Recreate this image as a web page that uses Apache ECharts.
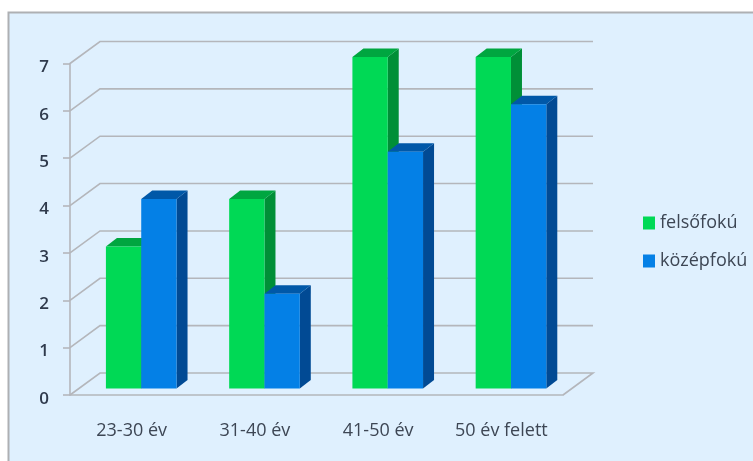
<!DOCTYPE html>
<html lang="hu">
<head>
    <meta charset="UTF-8">
    <title>felsőfokú / középfokú</title>
    <script src="https://cdn.jsdelivr.net/npm/echarts@6/dist/echarts.min.js"></script>
    <style>
        html, body { margin: 0; padding: 0; background: #fff; overflow: hidden; }
        #chart { width: 753px; height: 461px; }
    </style>
</head>
<body>
<div id="chart"></div>
<script>
    var categories = ['23-30 év', '31-40 év', '41-50 év', '50 év felett'];
    var felsofoku = [3, 4, 7, 7];
    var kozepfoku = [4, 2, 5, 6];
    var yTicks = [0, 1, 2, 3, 4, 5, 6, 7];

    var FONT = '"Open Sans", sans-serif';
    // fake 3d: the bars sit a bit into the floor, the back wall further
    var WALL_DX = 30, WALL_DY = 22;
    var BAR_DX = 9.6, BAR_DY = 6.5;
    var SIDE_DX = 11, SIDE_DY = 8.5;
    var GRID_LINE = '#b4b6bb';

    // back wall: one horizontal line per tick plus the slanted bit from the axis
    function renderWall(params, api) {
        var y = api.coord([0, api.value(1)])[1];
        var left = params.coordSys.x;
        var right = left + params.coordSys.width;
        var pts = [[left, y], [left + WALL_DX, y - WALL_DY], [right + WALL_DX, y - WALL_DY]];
        if (api.value(1) === 0) pts.push([right, y]);
        return {
            type: 'polyline',
            shape: { points: pts },
            style: { fill: 'none', stroke: GRID_LINE, lineWidth: 1.6 }
        };
    }

    function barRenderer(side, front, dark, darker) {
        return function (params, api) {
            var band = api.size([1, 0])[0];
            var w = band * 0.2865;
            var top = api.coord([api.value(0), api.value(1)]);
            var base = api.coord([api.value(0), 0]);
            var x0 = top[0] + BAR_DX + (side < 0 ? -w : 0);
            var x1 = x0 + w;
            var y0 = top[1] - BAR_DY;
            var y1 = base[1] - BAR_DY;
            return {
                type: 'group',
                children: [
                    {
                        type: 'polygon',
                        shape: { points: [[x1, y0], [x1 + SIDE_DX, y0 - SIDE_DY], [x1 + SIDE_DX, y1 - SIDE_DY], [x1, y1]] },
                        style: { fill: darker }
                    },
                    {
                        type: 'polygon',
                        shape: { points: [[x0, y0], [x0 + SIDE_DX, y0 - SIDE_DY], [x1 + SIDE_DX, y0 - SIDE_DY], [x1, y0]] },
                        style: { fill: dark }
                    },
                    {
                        type: 'rect',
                        shape: { x: x0, y: y0, width: w, height: y1 - y0 },
                        style: { fill: front }
                    }
                ]
            };
        };
    }

    var myChart = echarts.init(document.getElementById('chart'), null, { renderer: 'canvas' });
    var option = {
        animation: false,
        backgroundColor: '#fff',
        graphic: [{
            type: 'rect',
            z: -1,
            shape: { x: 8.5, y: 12.5, width: 800, height: 500 },
            style: { fill: '#dff0fe', stroke: '#aeb0b3', lineWidth: 2 }
        }],
        grid: { left: 70, top: 63.5, width: 493, height: 331.5 },
        xAxis: {
            type: 'category',
            data: categories,
            axisLine: { lineStyle: { color: GRID_LINE, width: 1.6 } },
            axisTick: { length: 6, lineStyle: { color: GRID_LINE, width: 1.6 } },
            axisLabel: { color: '#3d4654', fontFamily: FONT, fontSize: 18, margin: 27 },
            splitLine: { show: false }
        },
        yAxis: {
            type: 'value',
            min: 0,
            max: 7,
            interval: 1,
            axisLine: { show: true, lineStyle: { color: GRID_LINE, width: 1.6 } },
            axisTick: { show: true, length: 7, lineStyle: { color: GRID_LINE, width: 1.6 } },
            axisLabel: { color: '#2f3a4c', fontFamily: FONT, fontSize: 17, fontWeight: 600, margin: 21, verticalAlign: 'top', lineHeight: 8 },
            splitLine: { show: false }
        },
        legend: {
            left: 638,
            top: 209,
            orient: 'vertical',
            itemWidth: 12,
            itemHeight: 13,
            itemGap: 20,
            icon: 'rect',
            data: ['felsőfokú', 'középfokú'],
            textStyle: { color: '#3d4654', fontFamily: FONT, fontSize: 18 }
        },
        series: [
            {
                type: 'custom',
                silent: true,
                z: 1,
                renderItem: renderWall,
                encode: { x: 0, y: 1 },
                data: yTicks.map(function (v) { return [0, v]; })
            },
            {
                name: 'felsőfokú',
                type: 'custom',
                z: 2,
                itemStyle: { color: '#00d955' },
                renderItem: barRenderer(-1, '#00d955', '#00a640', '#008f37'),
                encode: { x: 0, y: 1 },
                data: felsofoku.map(function (v, i) { return [i, v]; })
            },
            {
                name: 'középfokú',
                type: 'custom',
                z: 3,
                itemStyle: { color: '#0480e6' },
                renderItem: barRenderer(1, '#0480e6', '#0058a8', '#014a94'),
                encode: { x: 0, y: 1 },
                data: kozepfoku.map(function (v, i) { return [i, v]; })
            }
        ]
    };
    myChart.setOption(option);
</script>
</body>
</html>
